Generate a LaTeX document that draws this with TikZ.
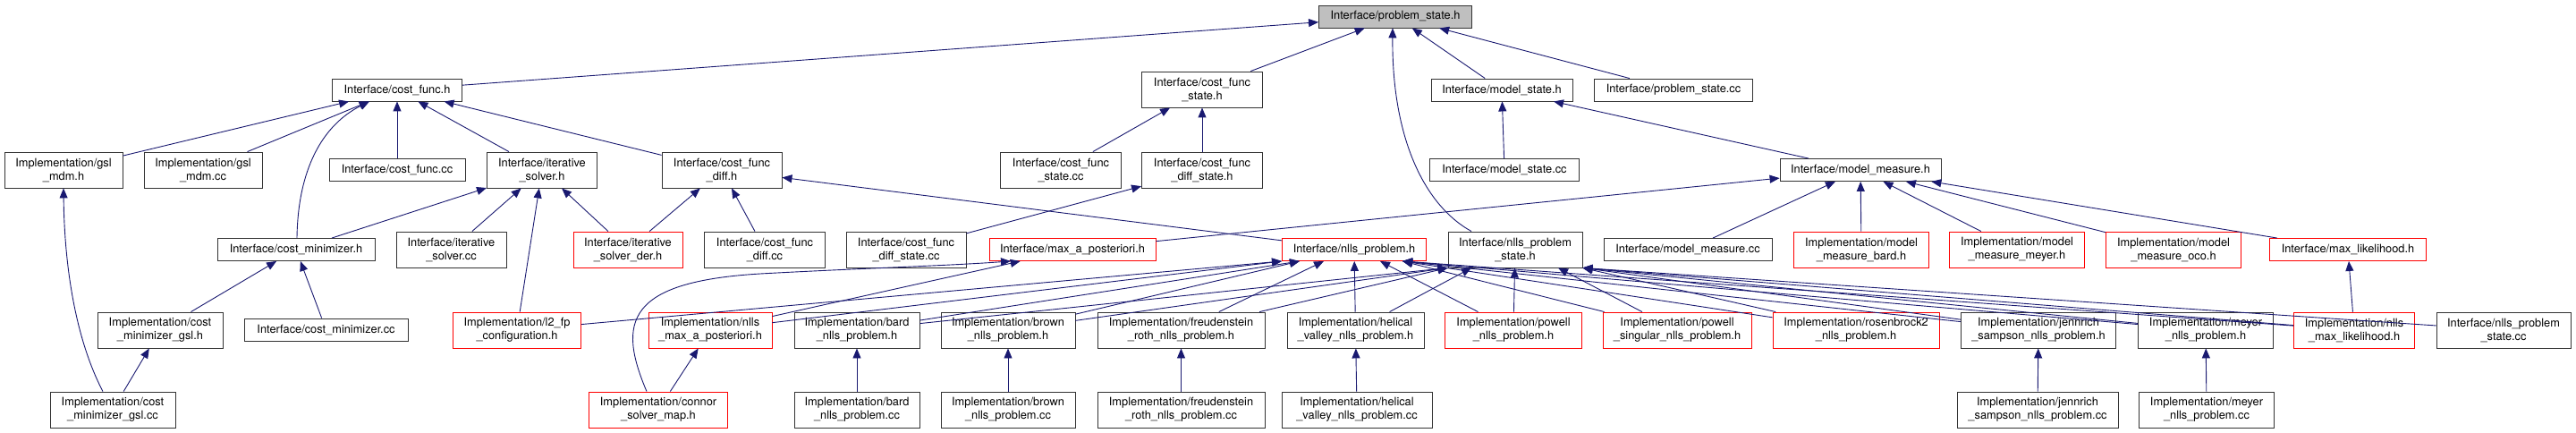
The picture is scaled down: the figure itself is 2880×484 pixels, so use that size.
\documentclass[tikz,border=0pt]{standalone}
\usepackage{fontspec}
\setmainfont{TeX Gyre Heros}
\usepackage{xcolor}
\usepackage{tikz}
\usetikzlibrary{arrows.meta}
\definecolor{edgeblue}{RGB}{25,25,112}
\definecolor{rootgray}{RGB}{191,191,191}

\begin{document}
\begin{tikzpicture}[x=1pt, y=-1pt,
  file/.style={draw=black!80, fill=white, line width=0.9pt, align=center, inner sep=1pt,
               font=\fontsize{12.8}{15}\selectfont, minimum height=25pt, minimum width=#1},
  file2/.style={file=#1, minimum height=40pt},
  trunc/.style={draw=red},
  dep/.style={-{Triangle[length=11pt,width=9pt]}, draw=edgeblue, line width=0.9pt}
]
  \useasboundingbox (0,0) rectangle (2880,484);

  % Root
  \node[file=171, fill=rootgray] (ps) at (1560,18.5) {Interface/problem\_state.h};

  % First level
  \node[file=145] (cf) at (444,100.5) {Interface/cost\_func.h};
  \node[file2=135] (cfs) at (1344,100) {Interface/cost\_func\\\_state.h};
  \node[file=158] (ms) at (1679,100.5) {Interface/model\_state.h};
  \node[file=177] (psc) at (1871,100.5) {Interface/problem\_state.cc};

  % Second level
  \node[file2=132] (gmh) at (71,190) {Implementation/gsl\\\_mdm.h};
  \node[file2=132] (gmc) at (227,190) {Implementation/gsl\\\_mdm.cc};
  \node[file=152] (cfc) at (444,190) {Interface/cost\_func.cc};
  \node[file2=123] (its) at (606,190) {Interface/iterative\\\_solver.h};
  \node[file2=134] (cfd) at (807,190) {Interface/cost\_func\\\_diff.h};
  \node[file2=135] (cfsc) at (1186,190) {Interface/cost\_func\\\_state.cc};
  \node[file2=135] (cfds) at (1344,190) {Interface/cost\_func\\\_diff\_state.h};
  \node[file=167] (msc) at (1682,190) {Interface/model\_state.cc};
  \node[file=180] (mm) at (2080,190) {Interface/model\_measure.h};

  % Third level
  \node[file=176] (cm) at (331,279) {Interface/cost\_minimizer.h};
  \node[file2=123] (itsc) at (504.5,279) {Interface/iterative\\\_solver.cc};
  \node[file2=122, trunc] (itsd) at (702,279) {Interface/iterative\\\_solver\_der.h};
  \node[file2=135] (cfdc) at (855,279) {Interface/cost\_func\\\_diff.cc};
  \node[file2=134] (cfdsc) at (1013,279) {Interface/cost\_func\\\_diff\_state.cc};
  \node[file=186, trunc] (map) at (1199,279) {Interface/max\_a\_posteriori.h};
  \node[file=161, trunc] (np) at (1514,279) {Interface/nlls\_problem.h};
  \node[file2=150] (nps) at (1694,279) {Interface/nlls\_problem\\\_state.h};
  \node[file=188] (mmc) at (1887,279) {Interface/model\_measure.cc};
  \node[file2=151, trunc] (mmb) at (2081,279) {Implementation/model\\\_measure\_bard.h};
  \node[file2=151, trunc] (mmm) at (2255,279) {Implementation/model\\\_measure\_meyer.h};
  \node[file2=151, trunc] (mmo) at (2430,279) {Implementation/model\\\_measure\_oco.h};
  \node[file=175, trunc] (ml) at (2625,279) {Interface/max\_likelihood.h};

  % Fourth level
  \node[file2=140] (cmg) at (179,369) {Implementation/cost\\\_minimizer\_gsl.h};
  \node[file=183] (cmc) at (364.5,368.5) {Interface/cost\_minimizer.cc};
  \node[file2=143, trunc] (l2) at (578,369) {Implementation/l2\_fp\\\_configuration.h};
  \node[file2=138, trunc] (nmap) at (794,369) {Implementation/nlls\\\_max\_a\_posteriori.h};
  \node[file2=140] (bard) at (958,369) {Implementation/bard\\\_nlls\_problem.h};
  \node[file2=150] (brown) at (1127,369) {Implementation/brown\\\_nlls\_problem.h};
  \node[file2=187] (freud) at (1320.5,369) {Implementation/freudenstein\\\_roth\_nlls\_problem.h};
  \node[file2=153] (heli) at (1515.5,369) {Implementation/helical\\\_valley\_nlls\_problem.h};
  \node[file2=153, trunc] (pow) at (1692,369) {Implementation/powell\\\_nlls\_problem.h};
  \node[file2=166, trunc] (pows) at (1875,369) {Implementation/powell\\\_singular\_nlls\_problem.h};
  \node[file2=186, trunc] (ros) at (2075,369) {Implementation/rosenbrock2\\\_nlls\_problem.h};
  \node[file2=173] (jen) at (2279,369) {Implementation/jennrich\\\_sampson\_nlls\_problem.h};
  \node[file2=151] (mey) at (2466,369) {Implementation/meyer\\\_nlls\_problem.h};
  \node[file2=135, trunc] (nml) at (2632,369) {Implementation/nlls\\\_max\_likelihood.h};
  \node[file2=150] (npsc) at (2799,369) {Interface/nlls\_problem\\\_state.cc};

  % Fifth level
  \node[file2=140] (cmgc) at (126,458) {Implementation/cost\\\_minimizer\_gsl.cc};
  \node[file2=155, trunc] (csm) at (736,458) {Implementation/connor\\\_solver\_map.h};
  \node[file2=140] (bardc) at (958,458) {Implementation/bard\\\_nlls\_problem.cc};
  \node[file2=150] (brownc) at (1127,458) {Implementation/brown\\\_nlls\_problem.cc};
  \node[file2=187] (freudc) at (1320.5,458) {Implementation/freudenstein\\\_roth\_nlls\_problem.cc};
  \node[file2=168] (helic) at (1517,458) {Implementation/helical\\\_valley\_nlls\_problem.cc};
  \node[file2=180] (jenc) at (2278,458) {Implementation/jennrich\\\_sampson\_nlls\_problem.cc};
  \node[file2=151] (meyc) at (2467,458) {Implementation/meyer\\\_nlls\_problem.cc};

  % Includes of problem_state.h
  \draw[dep] (cf) -- (ps);
  \draw[dep] (cfs) -- (ps);
  \draw[dep] (ms) -- (ps);
  \draw[dep] (psc) -- (ps);
  \draw[dep] ([xshift=-49pt]nps.north) .. controls (1590,228) and (1556,150) .. ([xshift=-3pt]ps.south);

  % Includes of cost_func.h
  \draw[dep] (gmh) -- (cf);
  \draw[dep] (gmc) -- (cf);
  \draw[dep] (cfc) -- (cf);
  \draw[dep] (its) -- (cf);
  \draw[dep] (cfd) -- (cf);
  \draw[dep] ([xshift=1pt]cm.north) .. controls (333,190) and (360,140) .. ([xshift=-31pt]cf.south);

  % State headers
  \draw[dep] (cfsc) -- (cfs);
  \draw[dep] (cfds) -- (cfs);
  \draw[dep] (cfdsc) -- (cfds);
  \draw[dep] (msc) -- (ms);
  \draw[dep] (mm) -- (ms);

  % Includes of model_measure.h
  \draw[dep] (map) -- (mm);
  \draw[dep] (mmc) -- (mm);
  \draw[dep] (mmb) -- (mm);
  \draw[dep] (mmm) -- (mm);
  \draw[dep] (mmo) -- (mm);
  \draw[dep] (ml) -- (mm);

  % Solvers and minimizers
  \draw[dep] (cm) -- (its);
  \draw[dep] (itsc) -- (its);
  \draw[dep] (l2) -- (its);
  \draw[dep] (itsd) -- (its);
  \draw[dep] (itsd) -- (cfd);
  \draw[dep] (cfdc) -- (cfd);
  \draw[dep] (np) -- (cfd);
  \draw[dep] (cmg) -- (cm);
  \draw[dep] (cmc) -- (cm);
  \draw[dep] (cmgc) -- (cmg);
  \draw[dep] ([xshift=-11pt]cmgc.north) .. controls (85,380) and (72,300) .. (gmh.south);

  % Posterior and likelihood
  \draw[dep] (csm) -- (nmap);
  \draw[dep] ([xshift=-13pt]csm.north) .. controls (690,360) and (700,315) .. (850,306)
             .. controls (960,300) and (1060,297) .. ([xshift=-69pt]map.south);
  \draw[dep] (nmap) -- (map);
  \draw[dep] (nml) -- (ml);

  % Includes of nlls_problem.h
  \draw[dep] (l2) -- (np.south west);
  \draw[dep] (nmap) -- (np.south west);
  \draw[dep] (bard) -- ([xshift=-61pt]np.south);
  \draw[dep] (brown) -- ([xshift=-61pt]np.south);
  \draw[dep] (freud) -- ([xshift=-34pt]np.south);
  \draw[dep] (heli) -- (np);
  \draw[dep] (pow) -- ([xshift=29pt]np.south);
  \draw[dep] (pows) -- ([xshift=54pt]np.south);
  \draw[dep] (ros) -- ([xshift=54pt]np.south);
  \draw[dep] (jen) -- ([xshift=54pt]np.south);
  \draw[dep] (mey) -- ([xshift=54pt]np.south);
  \draw[dep] (nml) -- ([xshift=54pt]np.south);

  % Includes of nlls_problem_state.h
  \draw[dep] (bard) -- (nps.south west);
  \draw[dep] (brown) -- (nps.south west);
  \draw[dep] (freud) -- (nps.south west);
  \draw[dep] (heli) -- ([xshift=-49pt]nps.south);
  \draw[dep] (pow) -- (nps);
  \draw[dep] (pows) -- ([xshift=48pt]nps.south);
  \draw[dep] (ros) -- (nps.south east);
  \draw[dep] (jen) -- (nps.south east);
  \draw[dep] (mey) -- (nps.south east);
  \draw[dep] (nml) -- (nps.south east);
  \draw[dep] (npsc) -- (nps.south east);

  % Sources of the problems
  \draw[dep] (bardc) -- (bard);
  \draw[dep] (brownc) -- (brown);
  \draw[dep] (freudc) -- (freud);
  \draw[dep] (helic) -- (heli);
  \draw[dep] (jenc) -- (jen);
  \draw[dep] (meyc) -- (mey);
\end{tikzpicture}
\end{document}
